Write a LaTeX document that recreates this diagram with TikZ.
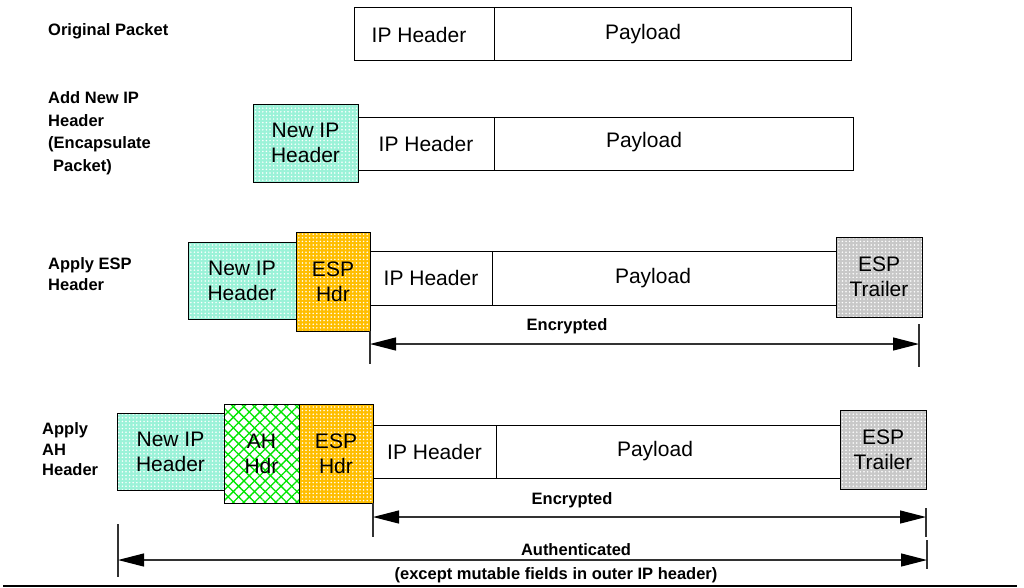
\documentclass[tikz,border=0pt]{standalone}
\usepackage{fontspec}
\setmainfont{Liberation Sans}
\usetikzlibrary{arrows.meta,patterns.meta}

\definecolor{hdrcyan}{RGB}{155,242,216}
\definecolor{espgold}{RGB}{255,190,0}
\definecolor{trlgray}{RGB}{200,200,200}
\definecolor{ahgreen}{RGB}{0,230,0}
\definecolor{arrowgray}{RGB}{50,50,50}

\tikzset{
  cell/.style={draw=black, line width=1pt, inner sep=0pt, outer sep=0pt,
    font=\fontsize{21}{25}\selectfont, align=center},
  dotted fill/.style={preaction={fill=#1},
    preaction={pattern={Dots[distance=3.6pt,radius=0.85pt]}, pattern color=white}},
  newip/.style={cell, dotted fill=hdrcyan},
  esphdr/.style={cell, dotted fill=espgold},
  esptrl/.style={cell, dotted fill=trlgray},
  ahhdr/.style={cell, preaction={fill=white},
    preaction={pattern={Lines[angle=45,distance=7.5pt,line width=1.3pt]}, pattern color=ahgreen},
    preaction={pattern={Lines[angle=-45,distance=7.5pt,line width=1.3pt]}, pattern color=ahgreen}},
  celltext/.style={inner sep=0pt, font=\fontsize{21}{25}\selectfont},
  steplabel/.style={anchor=west, inner sep=0pt, align=left, font=\bfseries\fontsize{16.5}{#1}\selectfont},
  steplabel/.default=22,
  rangetext/.style={inner sep=0pt, font=\bfseries\fontsize{16.5}{20}\selectfont},
  spanarrow/.style={draw=arrowgray, line width=1.2pt,
    {Triangle[length=26pt,width=13pt,color=black]}-{Triangle[length=26pt,width=13pt,color=black]}},
  endtick/.style={draw=arrowgray, line width=1.2pt},
}

\begin{document}
\begin{tikzpicture}[x=1pt,y=-1pt]
\useasboundingbox (0,0) rectangle (1024,587);

% step labels
\node[steplabel] (l1) at (48,31) {Original Packet};
\node[steplabel=22.5] (l2) at (48,133) {Add New IP\\Header\\(Encapsulate\\\hspace*{5pt}Packet)};
\node[steplabel=21.5] (l3) at (48,274) {Apply ESP\\Header};
\node[steplabel=20.5] (l4) at (42,449.5) {Apply\\AH\\Header};

% original packet
\node[cell, minimum width=140, minimum height=53] (ip1) at (424,33.5) {};
\node[celltext] (ip1t) at (419,35) {IP Header};
\node[cell, minimum width=357, minimum height=53] (pay1) at (672.5,33.5) {};
\node[celltext] (pay1t) at (643,34) {Payload};

% encapsulated packet
\node[newip, minimum width=105, minimum height=78] (new2) at (305.5,143) {New IP\\Header};
\node[cell, minimum width=136, minimum height=53] (ip2) at (426,143.5) {IP Header};
\node[cell, minimum width=359, minimum height=53] (pay2) at (673.5,143.5) {};
\node[celltext] (pay2t) at (644,142) {Payload};

% ESP applied
\node[newip, minimum width=108, minimum height=77] (new3) at (242,280.5) {New IP\\Header};
\node[esphdr, minimum width=74, minimum height=99] (esp3) at (333,281.5) {ESP\\Hdr};
\node[cell, minimum width=122, minimum height=54] (ip3) at (431,278) {IP Header};
\node[cell, minimum width=344, minimum height=54] (pay3) at (664,278) {};
\node[celltext] (pay3t) at (653,278) {Payload};
\node[esptrl, minimum width=86, minimum height=80] (trl3) at (879,277) {ESP\\Trailer};

\coordinate (e3l) at (370,344);
\coordinate (e3r) at (919,344);
\coordinate (t3l) at (370,364);
\coordinate (t3a) at (919,324);
\coordinate (t3b) at (919,367);
\draw[endtick] (esp3.south east) -- (t3l);
\draw[endtick] (t3a) -- (t3b);
\draw[spanarrow] (e3l) -- (e3r);
\node[rangetext] (enc3) at (567,326) {Encrypted};

% AH applied
\node[newip, minimum width=107, minimum height=77] (new4) at (170.5,451.5) {New IP\\Header};
\node[ahhdr, minimum width=75, minimum height=99] (ah4) at (261.5,453.5) {AH\\Hdr};
\node[esphdr, minimum width=74, minimum height=99] (esp4) at (336,453.5) {ESP\\Hdr};
\node[cell, minimum width=123, minimum height=53] (ip4) at (434.5,451.5) {IP Header};
\node[cell, minimum width=344, minimum height=53] (pay4) at (668,451.5) {};
\node[celltext] (pay4t) at (655,451.5) {Payload};
\node[esptrl, minimum width=86, minimum height=79] (trl4) at (883,449.5) {ESP\\Trailer};

\coordinate (e4l) at (373,517);
\coordinate (e4r) at (926,517);
\coordinate (t4l) at (373,537);
\coordinate (t4a) at (926,508);
\coordinate (t4b) at (926,537);
\draw[endtick] (esp4.south east) -- (t4l);
\draw[endtick] (t4a) -- (t4b);
\draw[spanarrow] (e4l) -- (e4r);
\node[rangetext] (enc4) at (572,500) {Encrypted};

\coordinate (a4l) at (118,560);
\coordinate (a4r) at (927,560);
\coordinate (u4a) at (118,524);
\coordinate (u4b) at (118,577);
\coordinate (u4c) at (927,540);
\coordinate (u4d) at (927,569);
\draw[endtick] (u4a) -- (u4b);
\draw[endtick] (u4c) -- (u4d);
\draw[spanarrow] (a4l) -- (a4r);
\node[rangetext] (auth) at (576,550) {Authenticated};
\node[rangetext] (authnote) at (556,575) {(except mutable fields in outer IP header)};

% bottom rule
\coordinate (r1) at (3,586);
\coordinate (r2) at (1017,586);
\draw[line width=1.5pt] (r1) -- (r2);
\end{tikzpicture}
\end{document}
